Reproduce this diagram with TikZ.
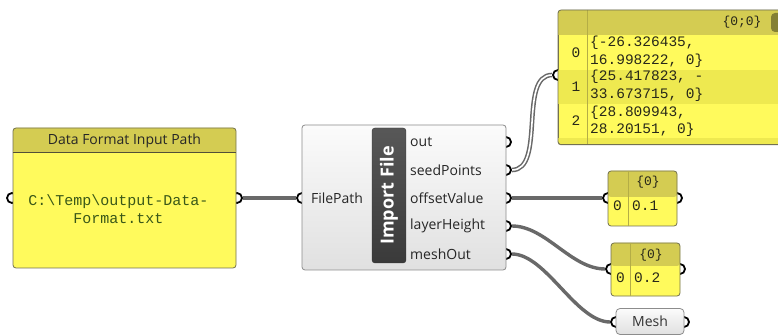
\documentclass[tikz,border=0pt]{standalone}
\usepackage{fontspec}
\setmainfont{Open Sans}
\setmonofont{Liberation Mono}
\usetikzlibrary{backgrounds}
\definecolor{panelhead}{RGB}{212,204,82}
\definecolor{panelbody}{RGB}{255,250,92}
\definecolor{panelrow}{RGB}{238,233,80}
\definecolor{panelline}{RGB}{115,113,80}
\definecolor{paneltext}{RGB}{40,40,25}
\definecolor{pathtext}{RGB}{58,88,24}
\definecolor{wiregray}{RGB}{105,105,105}
\definecolor{compline}{RGB}{140,140,140}
\definecolor{barfill}{RGB}{58,58,58}
\definecolor{thumb}{RGB}{132,128,52}
\newcommand{\wire}[3]{\draw[#1] (#2) .. controls ([xshift=40pt]#2) and ([xshift=-40pt]#3) .. (#3)}

\begin{document}
\begin{tikzpicture}[x=1pt,y=-1pt,
	port/.style={circle,draw=black,fill=white,line width=1.8pt,minimum size=10pt,inner sep=0pt},
	panel/.style={draw=panelline,fill=panelbody,rounded corners=3pt,line width=0.8pt,inner sep=0pt},
	comp/.style={draw=compline,top color=gray!3,bottom color=gray!24,rounded corners=3pt,line width=0.8pt,inner sep=0pt},
	wire/.style={draw=wiregray,line width=3.4pt},
	listwire/.style={draw=wiregray,line width=1.5pt,double=white,double distance=1.6pt},
	lbl/.style={font=\fontsize{14}{16}\selectfont,text=black!85,inner sep=0pt},
	mono/.style={font=\ttfamily\fontsize{14.5}{17}\selectfont,text=paneltext,inner sep=0pt}]
		\useasboundingbox (0,0) rectangle (778,336);
		\clip (0,0) rectangle (778,336);
		
		% ports
		\node[port] (dfp-in) at (12,198) {};
		\node[port] (dfp-out) at (237,198) {};
		\node[port] (imp-in) at (302,198) {};
		\foreach \n/\y in {out/142,seed/170,offset/198,layer/226,mesh/254}
			\node[port] (imp-\n) at (506,\y) {};
		\node[port] (pts-in) at (558,75) {};
		\node[port] (v1-in) at (608,198) {};
		\node[port] (v1-out) at (677,198) {};
		\node[port] (v2-in) at (611,269) {};
		\node[port] (v2-out) at (680,269) {};
		\node[port] (mesh-in) at (616,322) {};
		\node[port] (mesh-out) at (684,322) {};
		
		% data format input path
		\node[panel,minimum width=223pt,minimum height=140pt,
			path picture={\fill[panelhead] (path picture bounding box.north west) rectangle ([yshift=-25pt]path picture bounding box.north east);}] (dfp) at (124.5,198) {};
		\draw[panelline!70!black,line width=1pt] (dfp.west |- 0,153) to (dfp.east |- 0,153);
		\node[lbl] (dfp-title) at (124.5,140.5) {Data Format Input Path};
		\node[mono,font=\ttfamily\fontsize{15}{18}\selectfont,text=pathtext,align=center] (dfp-path) at (118.5,209) {C:\textbackslash Temp\textbackslash output-Data-\\Format.txt};
		
		% import file
		\node[comp,minimum width=204pt,minimum height=145pt] (imp) at (404,197.5) {};
		\node[draw=black!80,top color=barfill!85,bottom color=barfill,rounded corners=3pt,minimum width=34pt,minimum height=135pt,inner sep=0pt] (imp-bar) at (389,195.5) {};
		\node[rotate=90,text=white,font=\bfseries\fontsize{18}{20}\selectfont] (imp-name) at (imp-bar) {Import File};
		\node[lbl] (imp-fp) at (337,198) {FilePath};
		\foreach \n/\t/\y in {out/out/142,seed/seedPoints/170,offset/offsetValue/198,layer/layerHeight/226,mesh/meshOut/254}
			\node[lbl,anchor=west] (lbl-\n) at (410,\y) {\t};
		
		% seed points panel
		\node[panel,minimum width=250pt,minimum height=134pt,anchor=north west] (pts) at (558,10) {};
		\begin{scope}
			\clip[rounded corners=3pt] (558,10) rectangle (808,144);
			\fill[panelhead] (558,10) rectangle (808,35);
			\fill[panelrow] (558,70) rectangle (808,104);
			\fill[panelrow] (558,138) rectangle (808,144);
			\draw[panelhead!85!black,line width=0.5pt] (587,10) to (587,144);
		\end{scope}
		\draw[panelline,line width=0.8pt,rounded corners=3pt] (pts.north west) rectangle (pts.south east);
		\fill[thumb,rounded corners=4pt] (771,13) rectangle (790,32);
		\node[mono,font=\ttfamily\fontsize{13}{15}\selectfont] (pts-head) at (742,22) {\{0;0\}};
		\node[mono] (pts-i0) at (576,53) {0};
		\node[mono] (pts-i1) at (576,87) {1};
		\node[mono] (pts-i2) at (576,121) {2};
		\node[mono,anchor=west] (pts-a) at (590,43) {\{-26.326435,};
		\node[mono,anchor=west] (pts-b) at (590,61) {16.998222, 0\}};
		\node[mono,anchor=west] (pts-c) at (590,77) {\{25.417823, -};
		\node[mono,anchor=west] (pts-d) at (590,95) {33.673715, 0\}};
		\node[mono,anchor=west] (pts-e) at (590,113) {\{28.809943,};
		\node[mono,anchor=west] (pts-f) at (590,130) {28.20151, 0\}};
		
		% offset value panel
		\node[panel,minimum width=69pt,minimum height=55pt,
			path picture={\fill[panelhead] (path picture bounding box.north west) rectangle ([yshift=-26pt]path picture bounding box.north east);}] (v1) at (642.5,198.5) {};
		\draw[panelhead!85!black,line width=0.5pt] (628,171) to (628,226);
		\node[mono,font=\ttfamily\fontsize{13}{15}\selectfont] (v1-head) at (648,182) {\{0\}};
		\node[mono] (v1-i) at (617.5,206) {0};
		\node[mono,anchor=west] (v1-val) at (632,206) {0.1};
		
		% layer height panel
		\node[panel,minimum width=69pt,minimum height=53pt,
			path picture={\fill[panelhead] (path picture bounding box.north west) rectangle ([yshift=-23pt]path picture bounding box.north east);}] (v2) at (645.5,269.5) {};
		\draw[panelhead!85!black,line width=0.5pt] (630,243) to (630,296);
		\node[mono,font=\ttfamily\fontsize{13}{15}\selectfont] (v2-head) at (651,255) {\{0\}};
		\node[mono] (v2-i) at (620.5,278) {0};
		\node[mono,anchor=west] (v2-val) at (634,278) {0.2};
		
		% mesh
		\node[comp,rounded corners=4pt,minimum width=68pt,minimum height=26pt,font=\fontsize{14}{16}\selectfont,text=black!80] (mesh) at (650,321.5) {Mesh};
		
		\begin{pgfonlayer}{background}
			\fill[white] (0,0) rectangle (778,336);
			\draw[wire] (dfp-out) to (imp-in);
			\wire{listwire}{imp-seed}{pts-in};
			\draw[wire] (imp-offset) to (v1-in);
			\wire{wire}{imp-layer}{v2-in};
			\wire{wire}{imp-mesh}{mesh-in};
		\end{pgfonlayer}
	\end{tikzpicture}
\end{document}
